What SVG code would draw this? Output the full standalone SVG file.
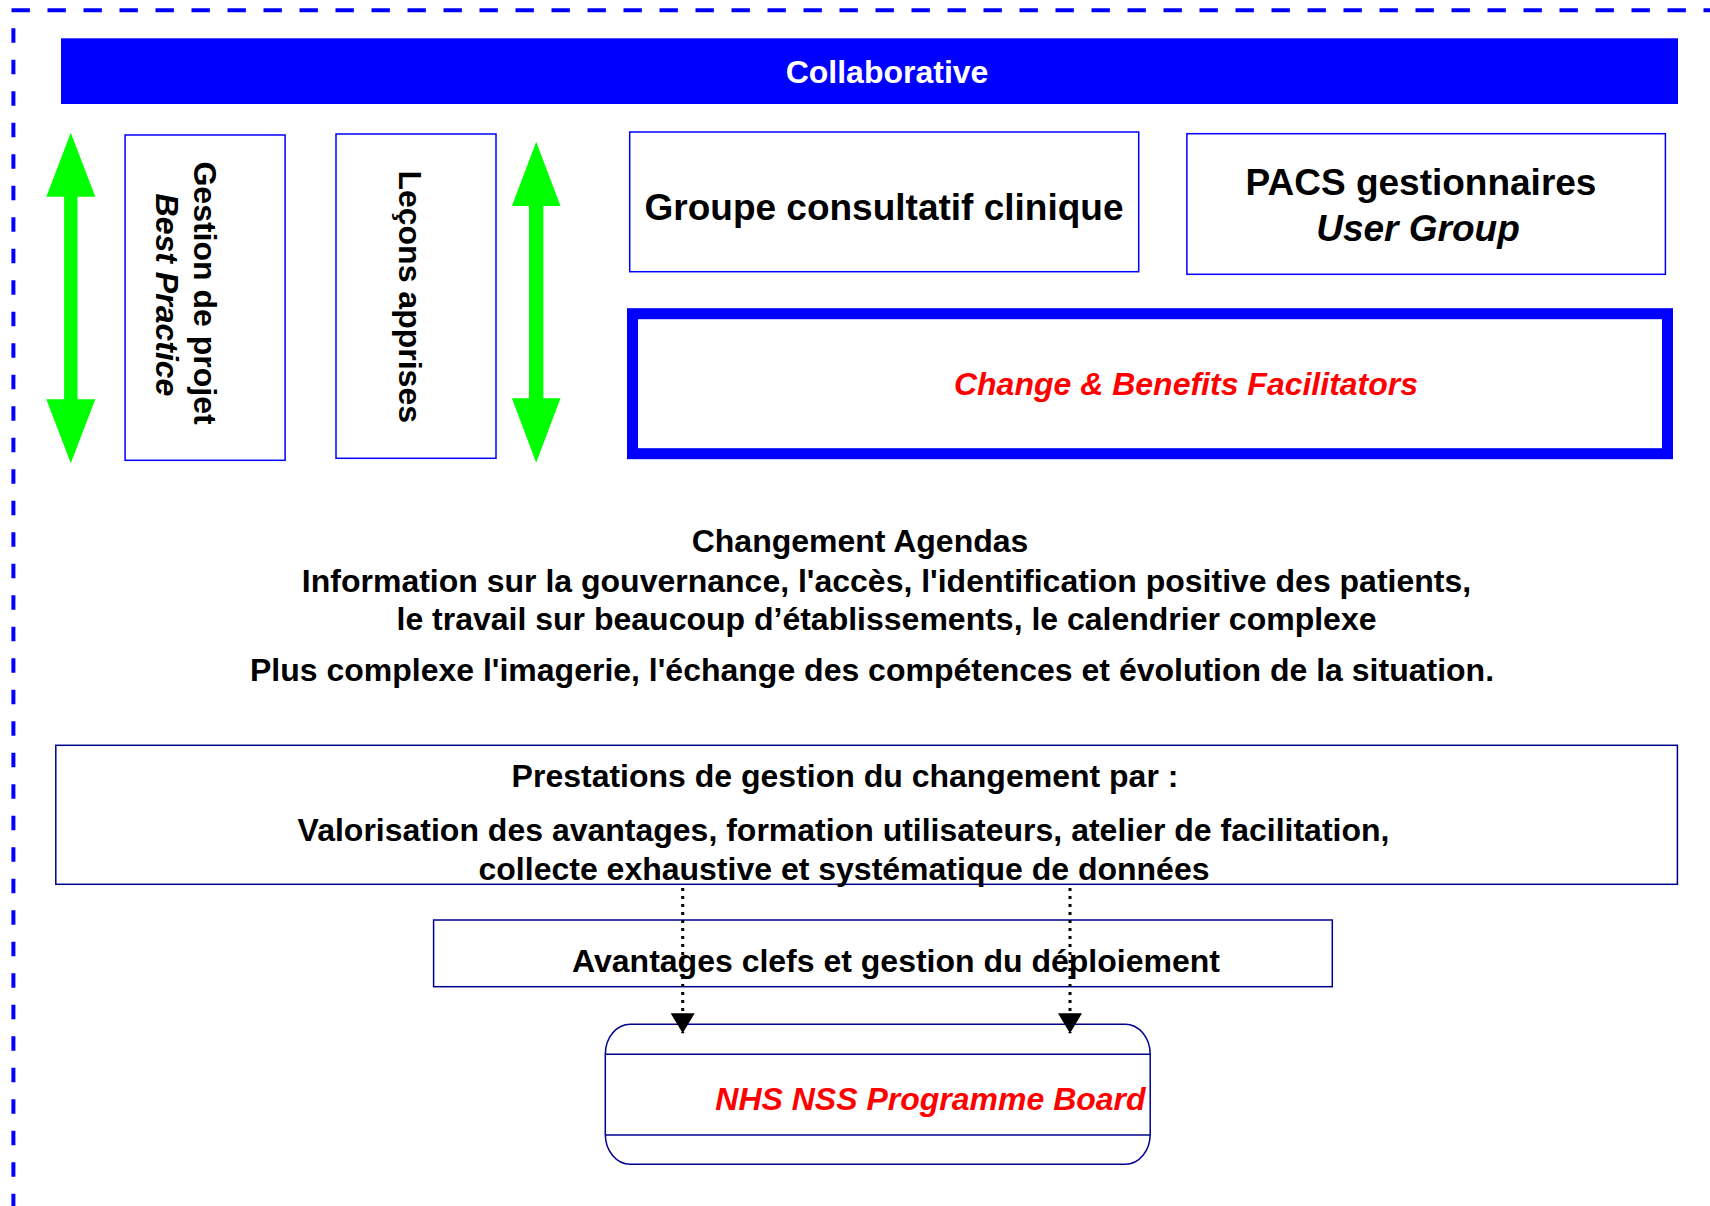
<svg xmlns="http://www.w3.org/2000/svg" width="1710" height="1206" viewBox="0 0 1710 1206">
<defs>
<style>
text{font-family:"Liberation Sans",Arial,sans-serif;font-weight:bold;fill:#000}
.t32{font-size:32px}
.t37{font-size:37px}
.mid{text-anchor:middle}
.it{font-style:italic}
.red{fill:#ff0000}
.wh{fill:#ffffff}
.bbox{fill:#ffffff;stroke:#0000ff;stroke-width:1.5}
.nbox{fill:#ffffff;stroke:#000090;stroke-width:1.5}
.green{fill:#00ff00}
.dot{stroke:#000;stroke-width:3;stroke-dasharray:3 5;fill:none}
</style>
<marker id="ah" viewBox="0 0 20 24" refX="20" refY="12" markerWidth="20" markerHeight="24" markerUnits="userSpaceOnUse" orient="auto">
<path d="M0,0 L20,12 L0,24 Z" fill="#000"/>
</marker>
</defs>
<rect width="1710" height="1206" fill="#ffffff"/>
<g id="frame">
<line x1="11.5" y1="10.3" x2="1710" y2="10.3" stroke="#0000ff" stroke-width="4" stroke-dasharray="18.4 17.6"/>
<line x1="13.4" y1="28.3" x2="13.4" y2="1206" stroke="#0000ff" stroke-width="4" stroke-dasharray="14.5 17"/>
</g>
<g id="collaborative">
<rect x="61" y="38.3" width="1617" height="65.7" fill="#0000ff"/>
<text class="t32 mid wh" x="887" y="83">Collaborative</text>
</g>
<g id="arrow-left">
<polygon class="green" points="70.8,132.7 95.3,196.7 77.5,196.7 77.5,399.3 95.3,399.3 70.8,463.3 46.3,399.3 64.1,399.3 64.1,196.7 46.3,196.7"/>
</g>
<g id="gestion">
<rect class="bbox" x="125.1" y="135" width="160" height="325.3"/>
<text class="t32 mid" transform="translate(194,293) rotate(90)">Gestion de projet</text>
<text class="t32 mid it" transform="translate(156,295) rotate(90)">Best Practice</text>
</g>
<g id="lecons">
<rect class="bbox" x="336" y="134" width="160" height="324.3"/>
<text class="t32 mid" transform="translate(399,296.7) rotate(90)">Leçons apprises</text>
</g>
<g id="arrow-right">
<polygon class="green" points="536.2,141.7 560.5,206 543.4,206 543.4,398.3 560.5,398.3 536.2,462.7 511.9,398.3 529,398.3 529,206 511.9,206"/>
</g>
<g id="groupe">
<rect class="bbox" x="629.7" y="132" width="509" height="139.7"/>
<text class="t37 mid" x="884" y="220">Groupe consultatif clinique</text>
</g>
<g id="pacs">
<rect class="bbox" x="1186.9" y="133.7" width="478.5" height="140.6"/>
<text class="t37 mid" x="1421" y="194.5">PACS gestionnaires</text>
<text class="t37 mid it" x="1418" y="240.5">User Group</text>
</g>
<g id="change">
<rect x="632.5" y="313.7" width="1035" height="140" fill="#ffffff" stroke="#0000ff" stroke-width="11"/>
<text class="t32 mid it red" x="1186" y="394.5">Change &amp; Benefits Facilitators</text>
</g>
<g id="agendas">
<text class="t32 mid" x="860" y="551.5">Changement Agendas</text>
<text class="t32 mid" x="886.5" y="592">Information sur la gouvernance, l'accès, l'identification positive des patients,</text>
<text class="t32 mid" x="886.5" y="630">le travail sur beaucoup d’établissements, le calendrier complexe</text>
<text class="t32 mid" x="872" y="680.5">Plus complexe l'imagerie, l'échange des compétences et évolution de la situation.</text>
</g>
<g id="prestations">
<rect class="nbox" x="55.8" y="745.3" width="1621.6" height="139"/>
<text class="t32 mid" x="845" y="787">Prestations de gestion du changement par :</text>
<text class="t32 mid" x="843.5" y="840.5">Valorisation des avantages, formation utilisateurs, atelier de facilitation,</text>
<text class="t32 mid" x="844" y="879.5">collecte exhaustive et systématique de données</text>
</g>
<g id="avantages">
<rect class="nbox" x="433.6" y="920" width="898.7" height="66.7"/>
<text class="t32 mid" x="896" y="972">Avantages clefs et gestion du déploiement</text>
</g>
<g id="nhs">
<rect class="nbox" x="605.3" y="1024.3" width="544.9" height="140" rx="25" ry="30"/>
<line x1="605.3" y1="1054.3" x2="1150.2" y2="1054.3" stroke="#000090" stroke-width="1.5"/>
<line x1="605.3" y1="1135" x2="1150.2" y2="1135" stroke="#000090" stroke-width="1.5"/>
<text class="t32 it red" x="1145.6" y="1109.5" text-anchor="end">NHS NSS Programme Board</text>
</g>
<g id="connectors">
<line class="dot" x1="682.7" y1="888" x2="682.7" y2="1033.3" marker-end="url(#ah)"/>
<line class="dot" x1="1070" y1="888" x2="1070" y2="1033.3" marker-end="url(#ah)"/>
</g>
</svg>
